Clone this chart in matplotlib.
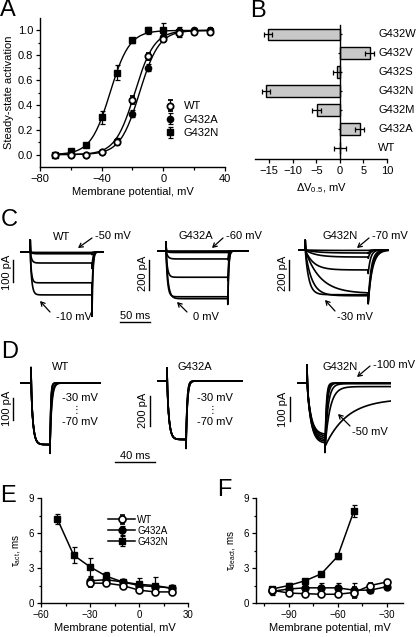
import matplotlib.pyplot as plt
import numpy as np

plt.rcParams['font.family'] = ['Liberation Sans', 'DejaVu Sans']
plt.rcParams['font.size'] = 8

W, H = 416, 637

# ---- data -------------------------------------------------------------
# A: steady-state activation
volt_act = [-70, -60, -50, -40, -30, -20, -10, 0, 10, 20, 30]
act_wt = [0.0, 0.0, 0.0, 0.02, 0.10, 0.44, 0.79, 0.93, 0.98, 0.99, 0.99]
act_wt_err = [0.01, 0.01, 0.01, 0.01, 0.02, 0.03, 0.03, 0.02, 0.03, 0.02, 0.03]
act_g432a = [0.0, 0.0, 0.0, 0.02, 0.11, 0.33, 0.70, 0.95, 0.99, 1.0, 1.0]
act_g432a_err = [0.01, 0.01, 0.01, 0.01, 0.02, 0.03, 0.03, 0.02, 0.02, 0.02, 0.02]
volt_act_n = [-70, -60, -50, -40, -30, -20, -10, 0, 10]
act_g432n = [0.0, 0.03, 0.08, 0.30, 0.66, 0.92, 1.0, 1.0, 0.99]
act_g432n_err = [0.01, 0.01, 0.01, 0.05, 0.06, 0.02, 0.03, 0.06, 0.04]
# Boltzmann fit parameters (WT, G432A, G432N)
fit_v_half = [-18.5, -15.4, -34.5]
fit_slope = [6.3, 6.3, 6.3]

# B: shift of V0.5
mutants = ['WT', 'G432A', 'G432M', 'G432N', 'G432S', 'G432V', 'G432W']
dv_half = [0.0, 4.2, -4.9, -15.7, -0.7, 6.3, -15.2]
dv_half_err = [1.2, 0.9, 1.0, 0.9, 0.8, 0.9, 0.9]

# C: activation traces (pA, ms)
c_wt_amp = [-2, -8, -50, -140, -195]
c_wt_tau = [3.0, 3.0, 2.5, 2.0, 2.5]
c_g432a_amp = [-1, -3, -10, -53, -175, -305, -318]
c_g432a_tau = [3.0, 3.0, 3.0, 3.0, 2.5, 2.5, 3.5]
c_g432n_amp = [-3, -20, -47, -133, -290, -305, -298]
c_g432n_tau = [20, 20, 18, 14, 25, 11, 6]
c_g432n_tail_tau = [3, 3, 3.5, 4, 5, 6, 7]

# D: deactivation traces (pA, ms)
d_wt_tail_peak = [-280, -290, -300, -310, -320]
d_wt_tail_tau = [1.8, 1.5, 0.9, 0.75, 0.75]
d_g432a_tail_peak = [-400, -415, -430, -440, -450]
d_g432a_tail_tau = [1.4, 1.1, 1.1, 1.3, 1.3]
d_g432n_amp = [-215, -222, -230, -238, -245, -252]
d_g432n_tail_peak = [-290, -285, -280, -275, -270, -265]
d_g432n_tail_tau = [1.2, 1.5, 2.0, 3.0, 5.0, 22.0]
d_g432n_tail_ss = [0, 0, 0, -3, -15, -65]

# E: activation time constants
volt_e = [-30, -20, -10, 0, 10, 20]
tau_act_wt = [1.7, 1.7, 1.5, 1.1, 0.95, 0.95]
tau_act_wt_err = [0.3, 0.1, 0.1, 0.1, 0.1, 0.1]
tau_act_g432a = [1.9, 2.0, 1.8, 1.5, 1.4, 1.3]
tau_act_g432a_err = [0.3, 0.2, 0.15, 0.2, 0.2, 0.1]
volt_e_n = [-50, -40, -30, -20, -10, 0, 10, 20]
tau_act_g432n = [7.2, 4.1, 3.1, 2.3, 1.8, 1.6, 1.5, 1.25]
tau_act_g432n_err = [0.45, 0.7, 0.8, 0.4, 0.2, 0.55, 0.7, 0.2]

# F: deactivation time constants
volt_f = [-100, -90, -80, -70, -60, -50, -40, -30]
tau_deact_wt = [1.1, 0.85, 0.8, 0.75, 0.75, 0.9, 1.5, 1.8]
tau_deact_wt_err = [0.3, 0.15, 0.1, 0.1, 0.1, 0.5, 0.2, 0.2]
tau_deact_g432a = [1.0, 1.2, 1.3, 1.3, 1.3, 1.1, 1.1, 1.4]
tau_deact_g432a_err = [0.3, 0.2, 0.2, 0.45, 0.45, 0.6, 0.2, 0.2]
volt_f_n = [-100, -90, -80, -70, -60, -50]
tau_deact_g432n = [1.2, 1.5, 1.9, 2.5, 4.0, 7.9]
tau_deact_g432n_err = [0.2, 0.2, 0.2, 0.1, 0.2, 0.5]


def fx(px):
    return px / W


def fy(py):
    return 1 - py / H


def rect(x0, y0, x1, y1):
    return [x0 / W, 1 - y1 / H, (x1 - x0) / W, (y1 - y0) / H]


def style_axes(ax, size):
    for side in ['top', 'right']:
        ax.spines[side].set_visible(False)
    for side in ['left', 'bottom']:
        ax.spines[side].set_linewidth(1.0)
    ax.tick_params(which='major', direction='out', length=3, width=0.9, labelsize=size, pad=2)
    ax.tick_params(which='minor', direction='out', length=1.8, width=0.9)


def pulse(pre, dur, post, amp, tau, cap, tail_peak, tail_tau, tail_ss=0.0):
    t = np.arange(0, pre + dur + post, 0.05)
    cur = np.zeros_like(t)
    on = (t >= pre) & (t < pre + dur)
    s = t[on] - pre
    cur[on] = amp * (1 - np.exp(-s / tau)) + cap * np.exp(-s / 0.3)
    off = t >= pre + dur
    s = t[off] - pre - dur
    cur[off] = tail_ss + (tail_peak - tail_ss) * np.exp(-s / tail_tau)
    return t, cur


def trace_axes(x0, x1, y_top, y_bot, base, px_ms, px_pa):
    ax = fig.add_axes(rect(x0, y_top, x1, y_bot))
    ax.set_xlim(0, (x1 - x0) / px_ms)
    ax.set_ylim(-(y_bot - base) / px_pa, (base - y_top) / px_pa)
    ax.axis('off')
    return ax


def label(px, py, s, **kw):
    fig.text(fx(px), fy(py), s, va='center', **kw)


def arrow(x_from, y_from, x_to, y_to):
    fig.add_artist(plt.Annotation('', xy=(fx(x_to), fy(y_to)), xycoords='figure fraction',
                                  xytext=(fx(x_from), fy(y_from)), textcoords='figure fraction',
                                  arrowprops=dict(arrowstyle='->,head_length=0.35,head_width=0.2',
                                                  lw=0.9, color='black', shrinkA=0, shrinkB=0)))


fig = plt.figure(figsize=(W / 100, H / 100), dpi=100)
TRACE_LW = 1.2

# ---- A ----------------------------------------------------------------
axA = fig.add_axes(rect(40, 18, 225, 167))
style_axes(axA, 8)
v_fit = np.linspace(-70, 30, 200)
for vh, k in zip(fit_v_half, fit_slope):
    axA.plot(v_fit, 1 / (1 + np.exp((vh - v_fit) / k)), color='black', lw=1.0)
mk = dict(capsize=1.8, elinewidth=0.9, capthick=0.9, ecolor='black', ls='none', markersize=4.5)
axA.errorbar(volt_act_n, act_g432n, yerr=act_g432n_err, marker='s', color='black', label='G432N', **mk)
axA.errorbar(volt_act, act_g432a, yerr=act_g432a_err, marker='o', color='black', label='G432A', **mk)
axA.errorbar(volt_act, act_wt, yerr=act_wt_err, marker='o', color='black', mfc='white', mew=1.3,
             label='WT', **mk)
axA.set_xlim(-80, 40)
axA.set_ylim(-0.1, 1.1)
axA.set_xticks([-80, -40, 0, 40])
axA.set_xticks([-60, -20, 20], minor=True)
axA.set_yticks([0, 0.2, 0.4, 0.6, 0.8, 1.0])
axA.set_yticks([0.1, 0.3, 0.5, 0.7, 0.9], minor=True)
axA.yaxis.set_major_formatter(lambda v, p: f'{v:.1f}')
axA.set_xlabel('Membrane potential, mV', fontsize=8, labelpad=2)
axA.set_ylabel('Steady-state activation', fontsize=8, labelpad=3)
h, l = axA.get_legend_handles_labels()
axA.legend(h[::-1], l[::-1], loc='upper left', bbox_to_anchor=(0.67, 0.44), frameon=False,
           fontsize=8, handlelength=1.0, handletextpad=0.8, labelspacing=0.3, borderpad=0,
           borderaxespad=0)

# ---- B ----------------------------------------------------------------
axB = fig.add_axes(rect(255, 25, 387, 159))
pos = np.arange(len(mutants))
axB.barh(pos, dv_half, height=0.62, color='#c8c8c8', edgecolor='black', lw=1.0, zorder=2)
axB.errorbar(dv_half, pos, xerr=dv_half_err, ls='none', ecolor='black', elinewidth=0.9,
             capsize=1.8, capthick=0.9, zorder=3)
for side in ['top', 'right']:
    axB.spines[side].set_visible(False)
axB.spines['left'].set_position(('data', 0))
axB.spines['left'].set_linewidth(1.0)
axB.spines['bottom'].set_linewidth(1.0)
axB.set_xlim(-18, 10)
axB.set_ylim(-0.6, 6.5)
axB.set_xticks([-15, -10, -5, 0, 5, 10])
axB.set_yticks(pos)
axB.set_yticklabels([])
axB.tick_params(axis='x', direction='out', length=3, width=0.9, labelsize=8, pad=2)
axB.tick_params(axis='y', direction='inout', length=3, width=0.9)
for p, name in zip(pos, mutants):
    axB.text(0.932, p, name, transform=axB.get_yaxis_transform(), va='center', fontsize=8)
axB.set_xlabel('ΔV$_{\\mathregular{0.5}}$, mV', fontsize=8, labelpad=4)

# ---- C ----------------------------------------------------------------
ax = trace_axes(20, 104, 230, 320, 252, 0.6, 0.22)
for a, tau in zip(c_wt_amp, c_wt_tau):
    t, cur = pulse(17, 103, 18, a, tau, 55, 1.5 * a, 1.5)
    ax.plot(t, cur, color='black', lw=TRACE_LW)
ax.plot([-11.5, -11.5], [-36, -136], color='black', lw=1.0, clip_on=False)
ax.plot([167, 217], [-318, -318], color='black', lw=1.0, clip_on=False)

ax = trace_axes(157, 249, 230, 320, 251, 0.6, 0.15)
for a, tau in zip(c_g432a_amp, c_g432a_tau):
    t, cur = pulse(15, 103, 35, a, tau, 60, 1.12 * a, 1.5)
    ax.plot(t, cur, color='black', lw=TRACE_LW)
ax.plot([-13, -13], [-60, -260], color='black', lw=1.0, clip_on=False)

ax = trace_axes(298, 389, 230, 320, 250, 0.6, 0.15)
for a, tau, tt in zip(c_g432n_amp, c_g432n_tau, c_g432n_tail_tau):
    t, cur = pulse(12, 105, 34, a, tau, 65, 1.18 * a, tt)
    ax.plot(t, cur, color='black', lw=TRACE_LW)
ax.plot([-15, -15], [-66, -266], color='black', lw=1.0, clip_on=False)

fig.text(fx(1), fy(220), 'C', fontsize=17, va='center')
label(7.5, 272, '100 pA', rotation=90, ha='center')
label(142.5, 273, '200 pA', rotation=90, ha='center')
label(282.5, 273, '200 pA', rotation=90, ha='center')
label(135, 316, '50 ms', ha='center')
label(62, 237, 'WT', ha='center')
label(95, 236, '-50 mV')
arrow(92, 238, 78, 248)
label(56, 317, '-10 mV')
arrow(50, 312, 40, 301)
label(196, 236, 'G432A', ha='center')
label(226, 236, '-60 mV')
arrow(223, 238, 212, 248)
label(193, 317, '0 mV')
arrow(187, 312, 177, 302)
label(340, 236, 'G432N', ha='center')
label(372, 236, '-70 mV')
arrow(369, 238, 357, 248)
label(337, 317, '-30 mV')
arrow(335, 311, 325, 300)

# ---- D ----------------------------------------------------------------
ax = trace_axes(20, 101, 360, 455, 383, 1.0, 0.22)
for tp, tt in zip(d_wt_tail_peak, d_wt_tail_tau):
    t, cur = pulse(11, 19, 51, -280, 2.0, 70, tp, tt)
    ax.plot(t, cur, color='black', lw=TRACE_LW)
ax.plot([-7, -7], [-68, -168], color='black', lw=1.0, clip_on=False)
ax.plot([95, 135], [-359, -359], color='black', lw=1.0, clip_on=False)

ax = trace_axes(157, 243, 360, 455, 381, 1.0, 0.15)
for tp, tt in zip(d_g432a_tail_peak, d_g432a_tail_tau):
    t, cur = pulse(10, 19, 57, -390, 2.0, 87, tp, tt)
    ax.plot(t, cur, color='black', lw=TRACE_LW)
ax.plot([-7, -7], [-100, -300], color='black', lw=1.0, clip_on=False)

ax = trace_axes(297, 391, 360, 455, 383, 1.0, 0.24)
for a, tp, tt, ss in zip(d_g432n_amp, d_g432n_tail_peak, d_g432n_tail_tau, d_g432n_tail_ss):
    t, cur = pulse(10, 18, 66, a, 4.0, 75, tp, tt, ss)
    ax.plot(t, cur, color='black', lw=TRACE_LW)
ax.plot([-7, -7], [-58, -158], color='black', lw=1.0, clip_on=False)

fig.text(fx(1), fy(352), 'D', fontsize=17, va='center')
label(7.5, 408, '100 pA', rotation=90, ha='center')
label(143, 410, '200 pA', rotation=90, ha='center')
label(283, 409, '100 pA', rotation=90, ha='center')
label(135, 456, '40 ms', ha='center')
label(61, 367, 'WT', ha='center')
label(62, 398, '-30 mV')
label(77, 410, '⋮', ha='center', fontsize=7)
label(62, 422, '-70 mV')
label(195, 367, 'G432A', ha='center')
label(197, 398, '-30 mV')
label(212, 410, '⋮', ha='center', fontsize=7)
label(197, 422, '-70 mV')
label(340, 367, 'G432N', ha='center')
label(373, 365, '-100 mV')
arrow(370, 366, 357, 377)
label(352, 432, '-50 mV')
arrow(350, 426, 338, 414)

# ---- E ----------------------------------------------------------------
mk = dict(capsize=1.8, elinewidth=0.9, capthick=0.9, ecolor='black', color='black', lw=1.1,
          markersize=5)
axE = fig.add_axes(rect(41, 498, 188, 603))
style_axes(axE, 7)
axE.errorbar(volt_e_n, tau_act_g432n, yerr=tau_act_g432n_err, marker='s', label='G432N', **mk)
axE.errorbar(volt_e, tau_act_g432a, yerr=tau_act_g432a_err, marker='o', label='G432A', **mk)
axE.errorbar(volt_e, tau_act_wt, yerr=tau_act_wt_err, marker='o', mfc='white', mew=1.2,
             label='WT', **mk)
axE.set_xlim(-60, 30)
axE.set_ylim(0, 9)
axE.set_xticks([-60, -30, 0, 30])
axE.set_xticks([-45, -15, 15], minor=True)
axE.set_yticks([0, 3, 6, 9])
axE.set_yticks([1.5, 4.5, 7.5], minor=True)
axE.set_xlabel('Membrane potential, mV', fontsize=8, labelpad=2)
axE.set_ylabel('τ$_{\\mathregular{act}}$, ms', fontsize=7, labelpad=4)
h, l = axE.get_legend_handles_labels()
axE.legend(h[::-1], l[::-1], loc='upper left', bbox_to_anchor=(0.456, 0.84), frameon=False,
           fontsize=7, handlelength=2.8, handletextpad=0.2, labelspacing=0.1, borderpad=0,
           borderaxespad=0)
fig.text(fx(0), fy(496), 'E', fontsize=17, va='center')

# ---- F ----------------------------------------------------------------
axF = fig.add_axes(rect(256, 498, 403, 603))
style_axes(axF, 7)
axF.errorbar(volt_f_n, tau_deact_g432n, yerr=tau_deact_g432n_err, marker='s', **mk)
axF.errorbar(volt_f, tau_deact_g432a, yerr=tau_deact_g432a_err, marker='o', **mk)
axF.errorbar(volt_f, tau_deact_wt, yerr=tau_deact_wt_err, marker='o', mfc='white', mew=1.2, **mk)
axF.set_xlim(-110, -20)
axF.set_ylim(0, 9)
axF.set_xticks([-90, -60, -30])
axF.set_xticks([-105, -75, -45], minor=True)
axF.set_yticks([0, 3, 6, 9])
axF.set_yticks([1.5, 4.5, 7.5], minor=True)
axF.set_xlabel('Membrane potential, mV', fontsize=8, labelpad=2)
axF.set_ylabel('τ$_{\\mathregular{deact}}$, ms', fontsize=7, labelpad=4)
fig.text(fx(217), fy(490), 'F', fontsize=17, va='center')

fig.text(fx(0), fy(10), 'A', fontsize=17, va='center')
fig.text(fx(250), fy(11), 'B', fontsize=17, va='center')

fig.savefig('out.png', dpi=100)
